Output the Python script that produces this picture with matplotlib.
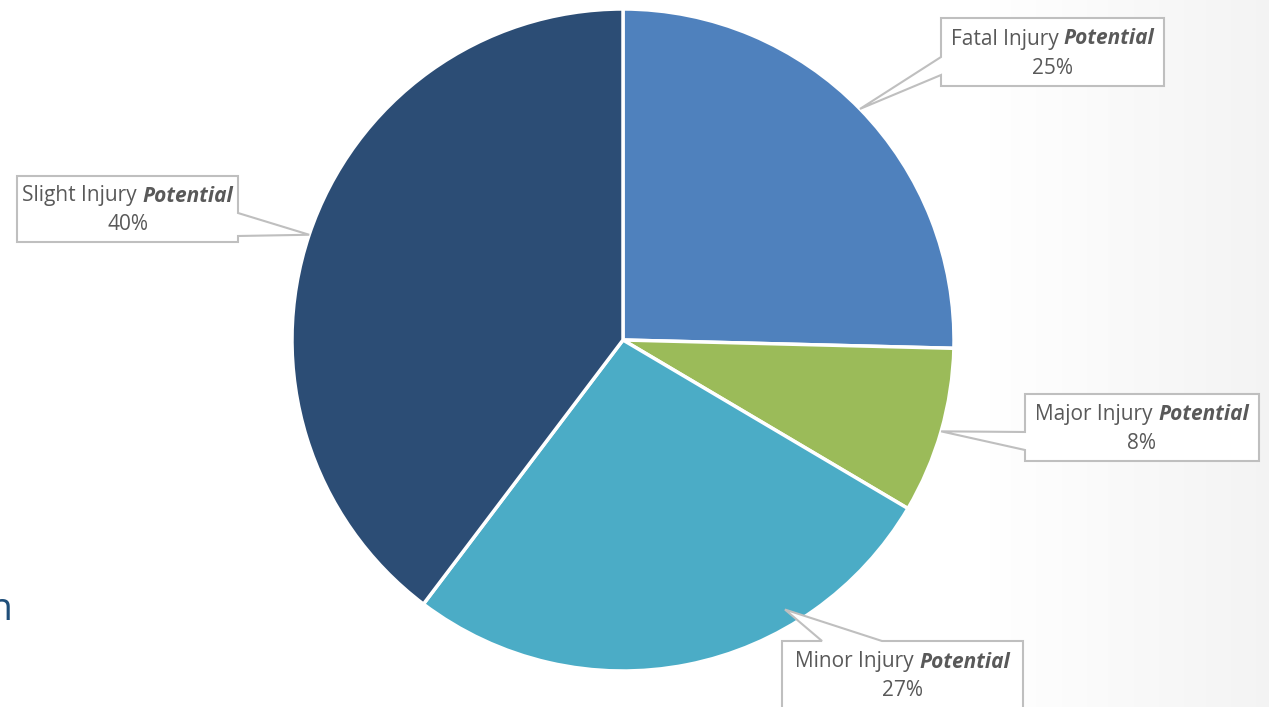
import numpy as np
import matplotlib
matplotlib.use("Agg")
import matplotlib.pyplot as plt
from matplotlib.patches import Polygon

# === DATA ===
categories = ["Fatal Injury", "Major Injury", "Minor Injury", "Slight Injury"]
values = [25.4, 8.1, 26.8, 39.7]
colors = ["#4F81BD", "#9BBB59", "#4BACC6", "#2C4D75"]

# === LAYOUT (pixels, y from top) ===
W, H = 1269, 707
CX, CY, R = 623, 340, 331
# label boxes: x0, y0, x1, y1, side the pointer leaves from, base span along that side
boxes = [
    (941, 18, 1164, 86, "left", (57, 75)),
    (1025, 394, 1259, 461, "left", (432, 450)),
    (782, 641, 1023, 720, "top", (822, 882)),
    (17, 176, 238, 242, "right", (213, 236)),
]
# where the pointer touches the pie (None -> middle of slice)
tip_angle = [None, None, -59.0, None]
tip_rad = [1.0, 1.0, 0.95, 1.0]

TXT = "#595959"
FS = 15
plt.rcParams["font.family"] = ["Open Sans", "DejaVu Sans"]

fig = plt.figure(figsize=(W / 100, H / 100), dpi=100)
ax = fig.add_axes([0, 0, 1, 1])

# faint gray wash on the right like the slide background
grad = np.linspace(0, 1, 300)
grad = np.clip((grad - 0.78) / 0.22, 0, 1) * 0.045
bg = np.ones((2, 300, 3)) * (1 - grad)[None, :, None]
ax.imshow(bg, extent=(0, W, H, 0), aspect="auto", zorder=0)

# pie, drawn clockwise from 12 o'clock (y axis is flipped)
wedges, _ = ax.pie(values, colors=colors, startangle=-90, counterclock=True,
                   center=(CX, CY), radius=R, frame=True,
                   wedgeprops=dict(edgecolor="white", linewidth=2.5))
ax.set_xlim(0, W)
ax.set_ylim(H, 0)
ax.set_aspect("auto")
ax.axis("off")
for w in wedges:
    w.set_zorder(2)

fig.canvas.draw()
rend = fig.canvas.get_renderer()

cum = np.cumsum([0] + values)
total = sum(values)
for i, (cat, v) in enumerate(zip(categories, values)):
    x0, y0, x1, y1, side, (b0, b1) = boxes[i]
    mid = 90 - (cum[i] + v / 2) / total * 360
    ang = tip_angle[i] if tip_angle[i] is not None else mid
    tx = CX + R * tip_rad[i] * np.cos(np.radians(ang))
    ty = CY - R * tip_rad[i] * np.sin(np.radians(ang))

    if side == "left":
        pts = [(x0, y0), (x1, y0), (x1, y1), (x0, y1), (x0, b1), (tx, ty), (x0, b0)]
    elif side == "right":
        pts = [(x0, y0), (x1, y0), (x1, b0), (tx, ty), (x1, b1), (x1, y1), (x0, y1)]
    else:
        pts = [(x0, y0), (b0, y0), (tx, ty), (b1, y0), (x1, y0), (x1, y1), (x0, y1)]
    ax.add_patch(Polygon(pts, closed=True, facecolor="white", edgecolor="#BFBFBF",
                         linewidth=1.5, zorder=3))

    # first line: normal part + bold italic "Potential", centred together
    bx = (x0 + x1) / 2
    by = (y0 + min(y1, y0 + 68)) / 2
    t1 = ax.text(0, 0, cat, fontsize=FS, color=TXT, va="center", ha="left", zorder=4)
    t2 = ax.text(0, 0, "Potential", fontsize=FS, color=TXT, fontweight="bold",
                 fontstyle="italic", va="center", ha="left", zorder=4)
    w1 = t1.get_window_extent(rend).width + FS * 0.36
    w2 = t2.get_window_extent(rend).width
    left = bx - (w1 + w2) / 2
    t1.set_position((left, by - 13))
    t2.set_position((left + w1, by - 13))
    pct = round(v / total * 100)
    ax.text(bx, by + 16, f"{pct}%", fontsize=FS, color=TXT, ha="center", va="center", zorder=4)

# cut-off slide text at the left edge
ax.text(12, 610, "n", fontsize=28, color="#1F4E79", ha="right", va="center", zorder=1)

fig.savefig("out.png", dpi=100)
